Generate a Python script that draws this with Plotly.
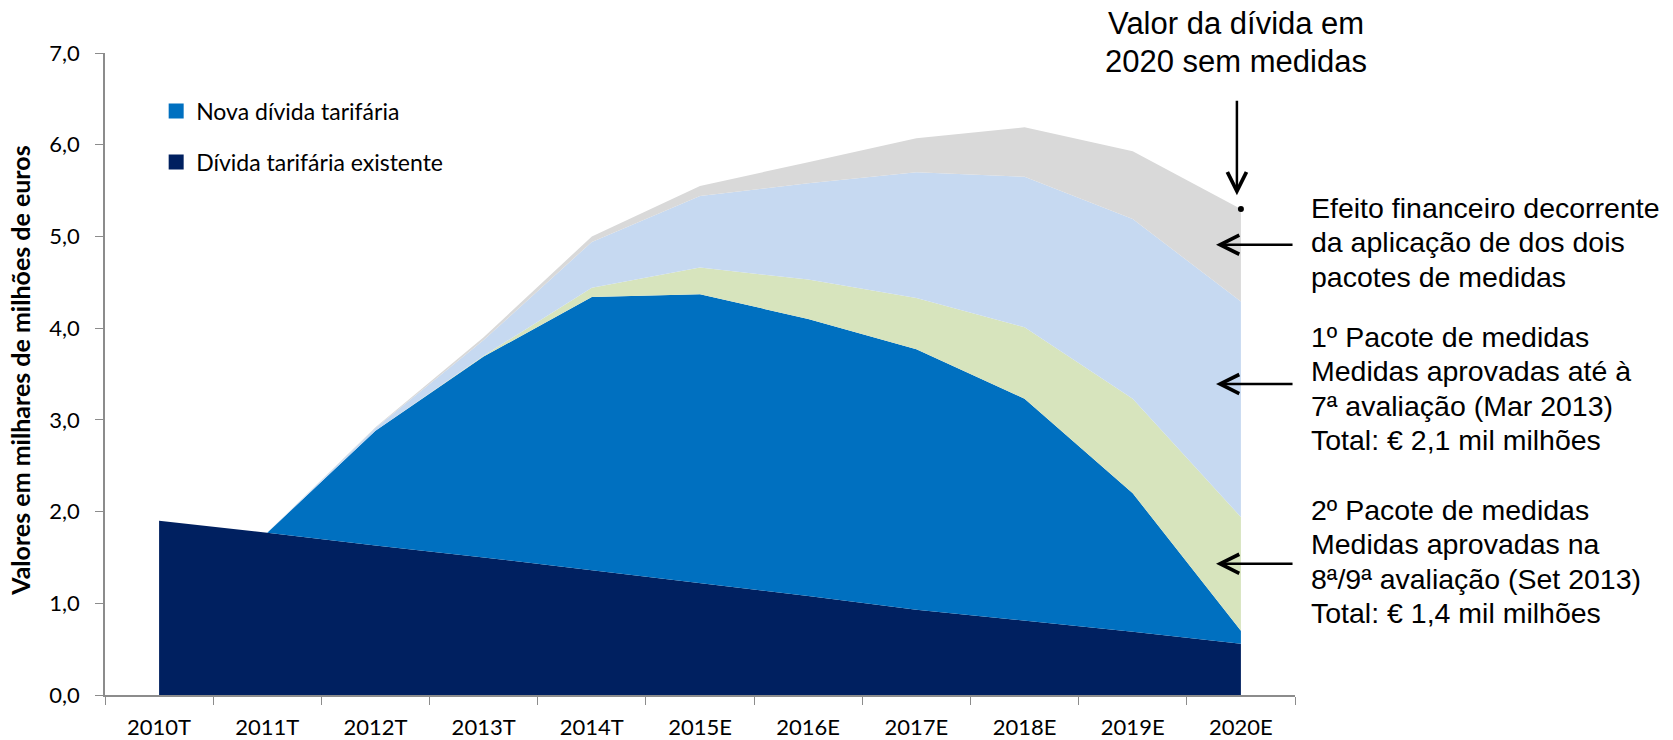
import plotly.graph_objects as go

# categorias e valores (mil milhões de euros)
anos = ['2010T', '2011T', '2012T', '2013T', '2014T', '2015E',
        '2016E', '2017E', '2018E', '2019E', '2020E']

divida_existente = [1.90, 1.77, 1.63, 1.50, 1.36, 1.22, 1.08, 0.93, 0.81, 0.69, 0.56]
nova_divida = [0.00, 0.00, 1.25, 2.19, 2.98, 3.15, 3.02, 2.84, 2.42, 1.51, 0.14]
pacote_2 = [0.00, 0.00, 0.00, 0.01, 0.10, 0.29, 0.43, 0.56, 0.78, 1.03, 1.24]
pacote_1 = [0.00, 0.00, 0.03, 0.17, 0.50, 0.78, 1.05, 1.37, 1.64, 1.96, 2.35]
efeito_financeiro = [0.00, 0.00, 0.01, 0.03, 0.06, 0.11, 0.23, 0.37, 0.54, 0.74, 1.01]

valor_2020_sem_medidas = 5.30

FONTE = 'Lato'
FONTE_NOTAS = 'Liberation Sans'

fig = go.Figure()

camadas = [
    ('Dívida tarifária existente', divida_existente, '#002060'),
    ('Nova dívida tarifária', nova_divida, '#0070C0'),
    ('2º Pacote de medidas', pacote_2, '#D7E4BD'),
    ('1º Pacote de medidas', pacote_1, '#C6D9F1'),
    ('Efeito financeiro', efeito_financeiro, '#D9D9D9'),
]
for nome, valores, cor in camadas:
    fig.add_trace(go.Scatter(
        x=anos, y=valores, name=nome,
        mode='lines', stackgroup='um',
        line=dict(width=0, color=cor),
        fillcolor=cor, showlegend=False,
    ))

# legenda com quadrados (só as duas dívidas)
for nome, cor in [('Nova dívida tarifária', '#0070C0'),
                  ('Dívida tarifária existente', '#002060')]:
    fig.add_trace(go.Scatter(
        x=[None], y=[None], mode='markers', name=nome,
        marker=dict(symbol='square', size=15, color=cor),
        legendgroup=nome,
    ))

# ponto: valor da dívida em 2020 sem medidas
fig.add_trace(go.Scatter(
    x=[anos[-1]], y=[valor_2020_sem_medidas], mode='markers',
    marker=dict(color='black', size=6), showlegend=False,
))

fig.update_layout(
    width=1673, height=740,
    margin=dict(l=105, r=378, t=53, b=45),
    plot_bgcolor='white', paper_bgcolor='white',
    separators=', ',
    font=dict(family=FONTE, size=22, color='black'),
    legend=dict(
        x=0.043, y=0.943, xanchor='left', yanchor='top',
        traceorder='grouped', tracegroupgap=18,
        font=dict(family=FONTE, size=23),
        itemwidth=30, bgcolor='rgba(0,0,0,0)',
    ),
    showlegend=True,
)

fig.update_xaxes(
    type='category', range=[-0.5, 10.5], automargin=False,
    showline=True, linecolor='#8C8C8C', linewidth=1.5,
    ticks='outside', tickson='boundaries', ticklen=8, tickcolor='#8C8C8C',
    showgrid=False, tickfont=dict(family=FONTE, size=22),
    ticklabelstandoff=12,
)
fig.update_yaxes(
    range=[0, 7], dtick=1, tickformat='.1f', automargin=False,
    showline=True, linecolor='#8C8C8C', linewidth=1.5,
    ticks='outside', ticklen=8, tickcolor='#8C8C8C',
    showgrid=False, zeroline=False,
    tickfont=dict(family=FONTE, size=22),
    ticklabelstandoff=11,
)

# título do eixo y
fig.add_annotation(x=-0.0714, y=0.505, xref='paper', yref='paper',
                   text='<b>Valores em milhares de milhões de euros</b>',
                   textangle=-90, showarrow=False,
                   xanchor='center', yanchor='middle',
                   font=dict(family=FONTE, size=25))

# seta vertical e texto por cima
fig.add_annotation(x=10, y=5.45, xref='x', yref='y', text='', xshift=-4,
                   showarrow=True, arrowhead=5, arrowsize=1.5, arrowwidth=2.5,
                   arrowcolor='black', ax=0, ay=-96)
for i, linha in enumerate(['Valor da dívida em', '2020 sem medidas']):
    fig.add_annotation(x=10, y=(695.3 - 24 - 38 * i) / 642, xref='x', yref='paper',
                       text=linha, showarrow=False, xshift=-5,
                       xanchor='center', yanchor='middle',
                       font=dict(family=FONTE_NOTAS, size=31))

# setas horizontais
for y_seta in [4.91, 3.39, 1.43]:
    fig.add_annotation(x=9.77, y=y_seta, xref='x', yref='y', text='',
                       showarrow=True, arrowhead=5, arrowsize=1.5, arrowwidth=2.5,
                       arrowcolor='black', ax=78, ay=0)

notas = [
    (208, ['Efeito financeiro decorrente', 'da aplicação de dos dois',
           'pacotes de medidas']),
    (337, ['1º Pacote de medidas', 'Medidas aprovadas até à',
           '7ª avaliação (Mar 2013)', 'Total: € 2,1 mil milhões']),
    (510, ['2º Pacote de medidas', 'Medidas aprovadas na',
           '8ª/9ª avaliação (Set 2013)', 'Total: € 1,4 mil milhões']),
]
for y_px, linhas in notas:
    for i, linha in enumerate(linhas):
        fig.add_annotation(x=1.0115, y=(695.3 - y_px - 34.5 * i) / 642,
                           xref='paper', yref='paper',
                           text=linha, showarrow=False,
                           xanchor='left', yanchor='middle', align='left',
                           font=dict(family=FONTE_NOTAS, size=28.5))

# a página tem margem de 8px por omissão; tirar para a figura começar no canto
fig.write_html('out.html', config={'displayModeBar': False},
               post_script="document.body.style.margin = '0';")
